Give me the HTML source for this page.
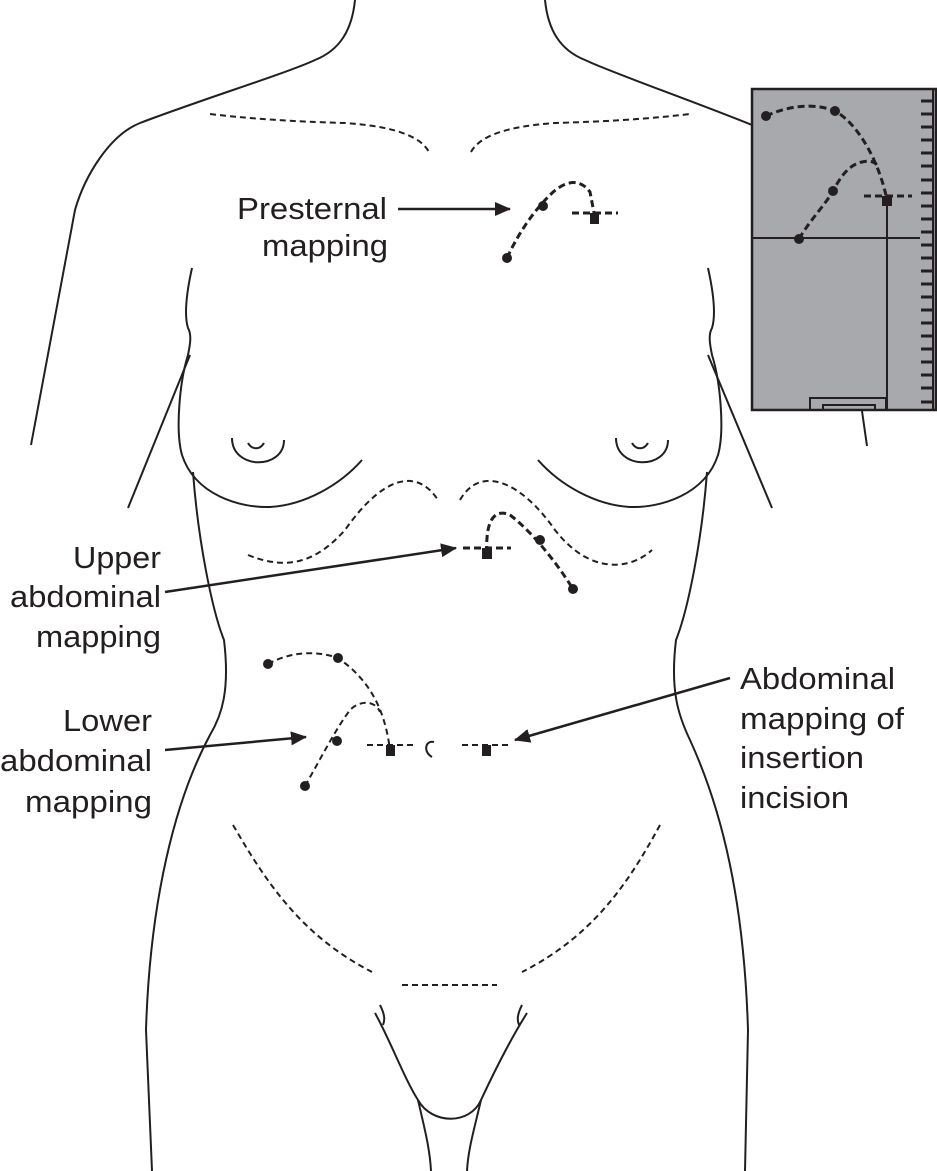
<!DOCTYPE html>
<html><head><meta charset="utf-8"><style>
html,body{margin:0;padding:0;background:#fff;}
svg{display:block;}
text{font-family:"Liberation Sans",sans-serif;font-size:31px;fill:#231f20;}
</style></head><body>
<svg width="937" height="1171" viewBox="0 0 937 1171" xmlns="http://www.w3.org/2000/svg">
<defs>
<marker id="ah" markerWidth="16" markerHeight="14" refX="15" refY="7" orient="auto" markerUnits="userSpaceOnUse" viewBox="0 0 16 14">
<path d="M0,0 L16,7 L0,14 Z" fill="#231f20"/></marker>
</defs>
<g fill="none" stroke="#231f20" stroke-width="2">
<path d="M355,0 C352,30 340,50 315,60 C290,72 200,100 140,123 C110,135 85,175 75,210 L31,445"/>
<path d="M190,355 L128,508"/>
<path d="M545,0 C548,30 560,50 585,60 C610,72 690,100 752,125"/>
<path d="M708,355 L772,508"/>
<path d="M192,268 C186,295 184,315 188,328 C192,335 190,345 188,355 C180,380 175,430 182,455 C195,495 240,508 270,507 C305,505 340,485 362,460"/>
<path d="M708,268 C714,295 716,315 712,328 C708,335 710,345 712,355 C720,380 725,430 718,455 C705,495 660,508 630,507 C595,505 560,485 538,460"/>
<path d="M193,472 C198,540 212,610 224,640 C230,690 222,715 210,735 C175,800 150,900 146,1030 L152,1171"/>
<path d="M707,472 C702,540 688,610 676,640 C670,690 678,715 690,740 C722,810 744,900 748,1030 L745,1171"/>
<path d="M232,438 C232,470 284,470 284,440"/>
<path d="M248,443 C252,450 260,450 264,443"/>
<path d="M616,438 C616,470 668,470 668,440"/>
<path d="M632,443 C636,450 644,450 648,443"/>
<path d="M375,1013 C390,1040 405,1080 418,1100 C432,1125 470,1125 481,1100 C495,1070 510,1040 527,1013"/>
<path d="M380,1005 C385,1015 385,1020 383,1025"/>
<path d="M522,1005 C517,1015 517,1020 519,1025"/>
<path d="M418,1100 C425,1130 430,1150 431,1171"/>
<path d="M481,1100 C474,1130 468,1150 467,1171"/>
<path d="M432,757 C423,752 425,740 434,742"/>
</g>
<g fill="none" stroke="#231f20" stroke-width="2" stroke-dasharray="6,4">
<path d="M210,114 C260,120 310,122 345,123 C390,126 420,135 429,152"/>
<path d="M471,152 C480,135 510,126 555,123 C590,122 640,120 690,114"/>
<path d="M248,555 C290,572 318,560 345,530 C380,480 415,465 438,500"/>
<path d="M460,500 C480,465 520,480 555,530 C590,575 630,570 652,550"/>
<path d="M233,825 C265,880 300,935 372,972"/>
<path d="M660,825 C630,880 595,935 522,972"/>
<path d="M402,985 L497,985"/>
<path d="M367,745 L416,745"/><path d="M462,745 L511,745"/>
<path d="M268,664 C290,652 315,650 338,658 C370,680 385,710 390,750"/>
<path d="M305,786 C320,760 335,730 350,710 C360,700 375,700 380,712"/>
</g>
<g fill="none" stroke="#231f20" stroke-width="3" stroke-dasharray="7,4">
<path d="M507,258 C520,230 535,210 550,195 C565,180 580,178 590,192 L595,218"/>
<path d="M572,213 L618,213"/>
<path d="M463,548 L511,548"/>
<path d="M487,553 C485,520 495,508 510,515 C530,530 555,560 573,589"/>
</g>
<g fill="#231f20">
<circle cx="507" cy="258" r="5"/><circle cx="543" cy="206" r="5"/>
<rect x="590" y="213" width="9" height="11"/>
<rect x="482" y="548" width="10" height="11"/>
<circle cx="540" cy="540" r="5"/><circle cx="573" cy="589" r="5"/>
<circle cx="268" cy="664" r="5"/><circle cx="338" cy="658" r="5"/>
<circle cx="337" cy="741" r="5"/><circle cx="305" cy="786" r="5"/>
<rect x="386" y="745" width="9" height="11"/>
<rect x="482" y="745" width="9" height="11"/>
</g>
<g stroke="#231f20" stroke-width="2.5" fill="none">
<line x1="398" y1="209" x2="510" y2="209" marker-end="url(#ah)"/>
<line x1="165" y1="592" x2="456" y2="548" marker-end="url(#ah)"/>
<line x1="165" y1="750" x2="306" y2="737" marker-end="url(#ah)"/>
<line x1="730" y1="678" x2="515" y2="740" marker-end="url(#ah)"/>
</g>
<rect x="752" y="89" width="184" height="321" fill="#a7a9ac" stroke="#231f20" stroke-width="2.5"/>
<g stroke="#231f20" stroke-width="2" fill="none">
<line x1="752" y1="238" x2="920" y2="238"/>
<line x1="887" y1="200" x2="887" y2="410"/>
<rect x="810" y="398" width="76" height="12"/>
<rect x="823" y="405" width="52" height="5"/>
<line x1="862" y1="411" x2="867" y2="446"/>
<line x1="933" y1="89" x2="933" y2="410"/>
</g>
<g stroke="#231f20" stroke-width="3">
<path d="M921,101h12M921,114h12M921,127h12M921,140h12M921,153h12M921,166h12M921,180h12M921,193h12M921,206h12M921,219h12M921,232h12M921,245h12M921,258h12M921,271h12M921,284h12M921,297h12M921,310h12M921,323h12M921,336h12M921,349h12M921,362h12M921,375h12M921,388h12M921,402h12"/>
</g>
<g fill="none" stroke="#231f20" stroke-width="3" stroke-dasharray="7,4">
<path d="M766,116 C790,105 815,103 835,111 C860,125 880,165 887,200"/>
<path d="M799,239 C810,220 825,205 833,191 C840,178 848,165 862,162 C870,160 876,162 878,167"/>
<path d="M864,196 L912,196"/>
</g>
<g fill="#231f20">
<circle cx="766" cy="116" r="5"/><circle cx="835" cy="111" r="5"/>
<circle cx="833" cy="191" r="5"/><circle cx="799" cy="239" r="5"/>
<rect x="882" y="196" width="10" height="10"/>
</g>
<g>
<text x="237" y="219" textLength="150" lengthAdjust="spacingAndGlyphs">Presternal</text>
<text x="262" y="256" textLength="126" lengthAdjust="spacingAndGlyphs">mapping</text>
<text x="73" y="568" textLength="88" lengthAdjust="spacingAndGlyphs">Upper</text>
<text x="10" y="607" textLength="151" lengthAdjust="spacingAndGlyphs">abdominal</text>
<text x="36" y="647" textLength="125" lengthAdjust="spacingAndGlyphs">mapping</text>
<text x="63" y="731" textLength="89" lengthAdjust="spacingAndGlyphs">Lower</text>
<text x="0" y="771" textLength="152" lengthAdjust="spacingAndGlyphs">abdominal</text>
<text x="25" y="812" textLength="127" lengthAdjust="spacingAndGlyphs">mapping</text>
<text x="740" y="689" textLength="155" lengthAdjust="spacingAndGlyphs">Abdominal</text>
<text x="740" y="729" textLength="164" lengthAdjust="spacingAndGlyphs">mapping of</text>
<text x="740" y="768" textLength="124" lengthAdjust="spacingAndGlyphs">insertion</text>
<text x="740" y="808" textLength="109" lengthAdjust="spacingAndGlyphs">incision</text>
</g>
</svg>
</body></html>
